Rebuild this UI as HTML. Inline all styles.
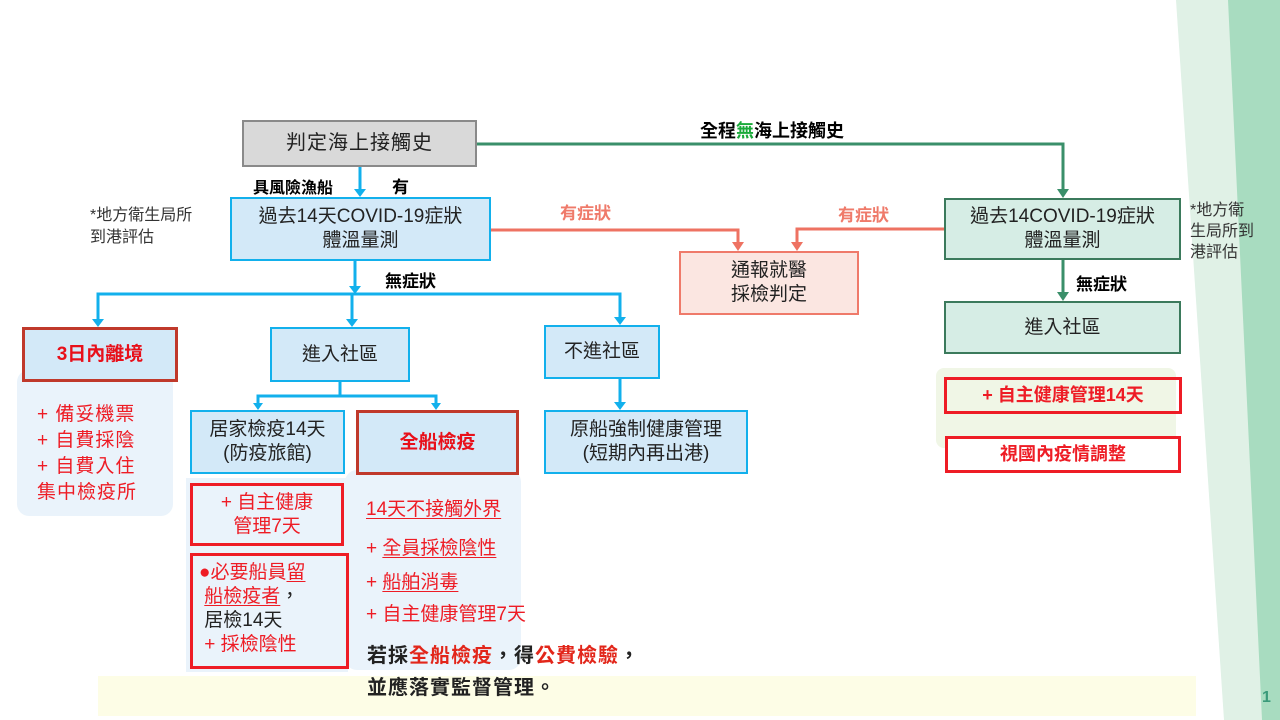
<!DOCTYPE html>
<html><head><meta charset="utf-8"><style>
body{margin:0;width:1280px;height:720px;overflow:hidden;background:#fff;position:relative;font-family:"Liberation Sans","Noto Sans CJK TC",sans-serif;}
.a{position:absolute;box-sizing:border-box;}
.bx{display:flex;align-items:center;justify-content:center;text-align:center;line-height:1.25;}
.blue{background:#d3e9f8;border:2px solid #12b0ec;color:#222;font-size:19px;}
.red3{background:#d3e9f8;border:3px solid #c0392b;color:#e8101a;font-weight:bold;font-size:19px;}
.grn{background:#d6ede5;border:2px solid #3b7a5c;color:#222;font-size:19px;}
.t{position:absolute;white-space:nowrap;}
.rd{color:#ee1c25;}
u{text-decoration:underline;text-underline-offset:3px;}
</style></head><body>
<svg class="a" style="left:0;top:0" width="1280" height="720">
<polygon points="1176,0 1280,0 1280,720 1224,720" fill="#e0f1e6"/>
<polygon points="1228,0 1280,0 1280,720 1262,720" fill="#a8dcc0"/>
<rect x="98" y="676" width="1098" height="40" fill="#fdfde6"/>
<rect x="17" y="370" width="156" height="146" rx="12" fill="#eaf3fb"/>
<rect x="345" y="470" width="176" height="200" rx="12" fill="#eaf3fb"/>
<rect x="936" y="368" width="240" height="80" rx="8" fill="#f0f6e6"/>
<rect x="186" y="478" width="162" height="194" fill="#eaf3fb"/>
<g stroke="#3a8f6a" stroke-width="3" fill="none"><polyline points="477,144 1063,144 1063,192"/><line x1="1063" y1="260" x2="1063" y2="294"/></g>
<g fill="#3a8f6a"><polygon points="1057,189 1069,189 1063,198"/><polygon points="1057,292 1069,292 1063,301"/></g>
<g stroke="#ee7262" stroke-width="3" fill="none"><polyline points="491,230 738,230 738,245"/><polyline points="944,229 797,229 797,245"/></g>
<g fill="#ee7262"><polygon points="732,242 744,242 738,251"/><polygon points="791,242 803,242 797,251"/></g>
<g stroke="#12b0ec" stroke-width="3" fill="none">
<line x1="360" y1="167" x2="360" y2="191"/>
<line x1="355" y1="261" x2="355" y2="288"/>
<polyline points="98,321 98,294 620,294 620,319"/>
<line x1="352" y1="294" x2="352" y2="321"/>
<line x1="340" y1="381" x2="340" y2="396"/>
<polyline points="258,404 258,396 436,396 436,404"/>
<line x1="620" y1="378" x2="620" y2="404"/>
</g>
<g fill="#12b0ec">
<polygon points="354,189 366,189 360,197"/><polygon points="349,286 361,286 355,294"/>
<polygon points="92,319 104,319 98,327"/><polygon points="346,319 358,319 352,327"/>
<polygon points="614,317 626,317 620,325"/><polygon points="253,403 263,403 258,410"/>
<polygon points="431,403 441,403 436,410"/><polygon points="614,402 626,402 620,410"/>
</g>
</svg>
<div class="a bx" style="left:242px;top:120px;width:235px;height:47px;background:#d9d9d9;border:2px solid #8a8a8a;font-size:20px;letter-spacing:1px;color:#222;">判定海上接觸史</div>
<div class="t" style="left:700px;top:117px;font-size:18px;font-weight:bold;">全程<span style="color:#1aaa3a">無</span>海上接觸史</div>
<div class="t" style="left:253px;top:174px;font-size:16px;font-weight:bold;">具風險漁船</div>
<div class="t" style="left:392px;top:173px;font-size:17px;font-weight:bold;">有</div>
<div class="t" style="left:90px;top:205px;font-size:16px;line-height:22px;color:#333;">*地方衛生局所<br>到港評估</div>
<div class="a bx blue" style="left:230px;top:197px;width:261px;height:64px;">過去14天COVID-19症狀<br>體溫量測</div>
<div class="t" style="left:385px;top:267px;font-size:17px;font-weight:bold;">無症狀</div>
<div class="t" style="left:560px;top:199px;font-size:17px;font-weight:bold;color:#ef7a6a;">有症狀</div>
<div class="t" style="left:838px;top:201px;font-size:17px;font-weight:bold;color:#ef7a6a;">有症狀</div>
<div class="a bx" style="left:679px;top:251px;width:180px;height:64px;background:#fbe6e1;border:2px solid #ef7a6a;font-size:19px;color:#222;">通報就醫<br>採檢判定</div>
<div class="a bx grn" style="left:944px;top:198px;width:237px;height:62px;">過去14COVID-19症狀<br>體溫量測</div>
<div class="t" style="left:1190px;top:200px;font-size:16px;line-height:21px;color:#333;">*地方衛<br>生局所到<br>港評估</div>
<div class="t" style="left:1076px;top:270px;font-size:17px;font-weight:bold;">無症狀</div>
<div class="a bx grn" style="left:944px;top:301px;width:237px;height:53px;">進入社區</div>
<div class="a bx" style="left:944px;top:377px;width:238px;height:37px;border:3px solid #ee1c25;color:#ee1c25;font-weight:bold;font-size:18px;">+ 自主健康管理14天</div>
<div class="a bx" style="left:945px;top:436px;width:236px;height:37px;border:3px solid #ee1c25;background:#fff;color:#ee1c25;font-weight:bold;font-size:18px;">視國內疫情調整</div>
<div class="a bx red3" style="left:22px;top:327px;width:156px;height:55px;">3日內離境</div>
<div class="t rd" style="left:37px;top:402px;font-size:19px;line-height:26px;letter-spacing:1px;">+ 備妥機票<br>+ 自費採陰<br>+ 自費入住<br>集中檢疫所</div>
<div class="a bx blue" style="left:270px;top:327px;width:140px;height:55px;">進入社區</div>
<div class="a bx blue" style="left:544px;top:325px;width:116px;height:54px;">不進社區</div>
<div class="a bx blue" style="left:190px;top:410px;width:155px;height:64px;">居家檢疫14天<br>(防疫旅館)</div>
<div class="a bx red3" style="left:356px;top:410px;width:163px;height:65px;">全船檢疫</div>
<div class="a bx blue" style="left:544px;top:410px;width:204px;height:64px;">原船強制健康管理<br>(短期內再出港)</div>
<div class="a bx" style="left:190px;top:483px;width:154px;height:63px;border:3px solid #ee1c25;color:#ee1c25;font-size:19px;">+ 自主健康<br>管理7天</div>
<div class="a" style="left:190px;top:553px;width:159px;height:116px;border:3px solid #ee1c25;font-size:19px;line-height:24px;padding:5px 0 0 6px;color:#222;">
<span class="rd">●必要船員<u>留</u></span><br>&nbsp;<u class="rd">船檢疫者</u>，<br>&nbsp;居檢14天<br><span class="rd">&nbsp;+ 採檢陰性</span></div>
<div class="t rd" style="left:366px;top:494px;font-size:19px;"><u>14天不接觸外界</u></div>
<div class="t rd" style="left:366px;top:533px;font-size:19px;">+ <u>全員採檢陰性</u></div>
<div class="t rd" style="left:366px;top:567px;font-size:19px;">+ <u>船舶消毒</u></div>
<div class="t rd" style="left:366px;top:599px;font-size:19px;">+ 自主健康管理7天</div>
<div class="t" style="left:367px;top:640px;font-size:20px;font-weight:bold;line-height:32px;letter-spacing:1px;color:#222;">若採<span style="color:#e2261a">全船檢疫</span>，得<span style="color:#e2261a">公費檢驗</span>，<br>並應落實監督管理。</div>
<div class="t" style="left:1262px;top:689px;font-size:16px;font-weight:bold;color:#3a9a7a;">1</div>
</body></html>
